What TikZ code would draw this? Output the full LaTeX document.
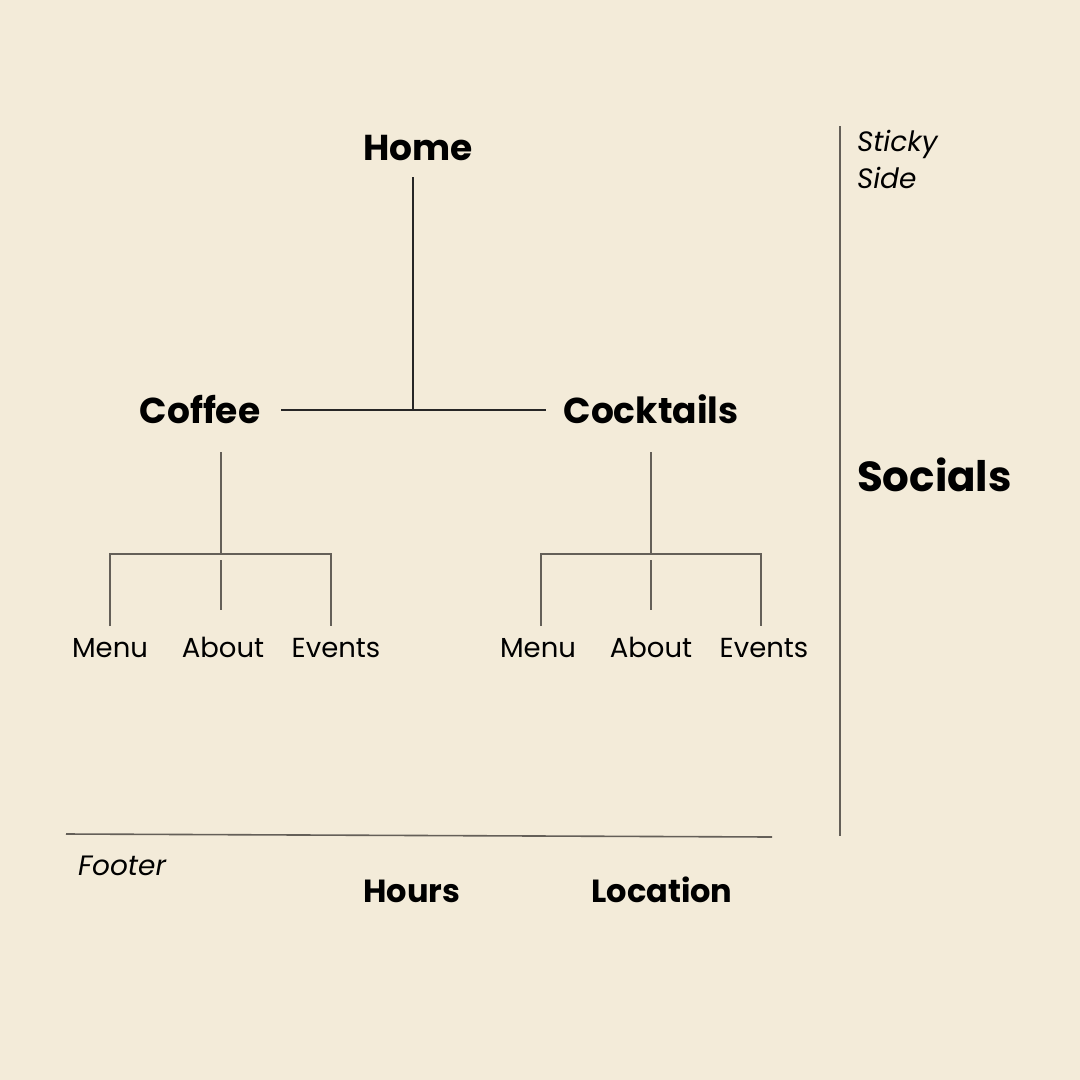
\documentclass[tikz,border=0pt]{standalone}
\usepackage{fontspec}
\setmainfont{Poppins}
\begin{document}
\begin{tikzpicture}[x=1pt,y=-1pt,
  every node/.style={inner sep=0pt,outer sep=0pt,text=black,anchor=base},
  big/.style={font=\fontsize{36}{40}\selectfont\bfseries},
  mid/.style={font=\fontsize{36}{40}\selectfont\bfseries},
  small/.style={font=\fontsize{27.5}{30}\selectfont},
  ital/.style={font=\fontsize{28}{30}\selectfont\itshape,anchor=base west},
  foot/.style={font=\fontsize{32}{36}\selectfont\bfseries},
  link/.style={draw=black!85,line width=1.2pt},
  sub/.style={draw={rgb,255:red,100;green,95;blue,88},line width=1.6pt}]
\definecolor{bg}{RGB}{243,235,217}
\fill[bg] (0,0) rectangle (1080,1080);
\useasboundingbox (0,0) rectangle (1080,1080);
% top level
\node[big] (home) at (418,160) {Home};
\node[mid] (coffee) at (200,423) {Coffee};
\node[mid] (cocktails) at (651,423) {Cocktails};
\coordinate (ht) at (413,177);
\coordinate (hj) at (413,410);
\coordinate (hl) at (281,410);
\coordinate (hr) at (546,410);
\draw[link] (ht) -- (hj);
\draw[link] (hl) -- (hr);
% coffee subtree
\coordinate (ct) at (221,452);
\coordinate (cj) at (221,554);
\coordinate (cl) at (110,554);
\coordinate (cr) at (331,554);
\coordinate (clb) at (110,626);
\coordinate (crb) at (331,626);
\coordinate (cm1) at (221,560);
\coordinate (cm2) at (221,610);
\node[small] (cmenu) at (110,657) {Menu};
\node[small] (cabout) at (223,657) {About};
\node[small] (cevents) at (336,657) {Events};
\draw[sub] (ct) -- (cj);
\draw[sub] (clb) -- (cl) -- (cr) -- (crb);
\draw[sub] (cm1) -- (cm2);
% cocktails subtree
\coordinate (kt) at (651,452);
\coordinate (kj) at (651,554);
\coordinate (kl) at (541,554);
\coordinate (kr) at (761,554);
\coordinate (klb) at (541,626);
\coordinate (krb) at (761,626);
\coordinate (km1) at (651,560);
\coordinate (km2) at (651,610);
\node[small] (kmenu) at (538,657) {Menu};
\node[small] (kabout) at (651,657) {About};
\node[small] (kevents) at (764,657) {Events};
\draw[sub] (kt) -- (kj);
\draw[sub] (klb) -- (kl) -- (kr) -- (krb);
\draw[sub] (km1) -- (km2);
% side
\coordinate (s1) at (840,126);
\coordinate (s2) at (840,836);
\draw[sub] (s1) -- (s2);
\node[ital] (sticky) at (857,151) {Sticky};
\node[ital] (side) at (857,188) {Side};
\node[font=\fontsize{42}{46}\selectfont\bfseries,anchor=base west] (socials) at (857,491) {Socials};
% footer
\coordinate (f1) at (66,834);
\coordinate (f2) at (772,837);
\draw[sub] (f1) -- (f2);
\node[ital] (footer) at (78,875) {Footer};
\node[foot] (hours) at (412,902) {Hours};
\node[foot] (location) at (662,902) {Location};
\end{tikzpicture}
\end{document}
